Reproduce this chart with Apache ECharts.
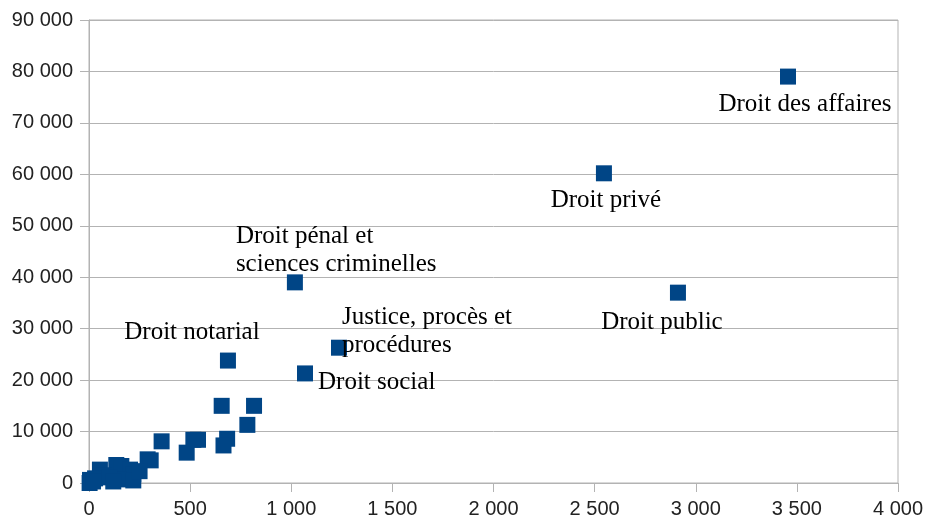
<!DOCTYPE html>
<html>
<head>
<meta charset="utf-8">
<script src="https://cdn.jsdelivr.net/npm/echarts@6/dist/echarts.min.js"></script>
<style>
  html, body { margin: 0; padding: 0; background: #fff; }
  #chart { width: 927px; height: 519px; }
</style>
</head>
<body>
<div id="chart"></div>
<script>
// nombre d'étudiants (x) vs. nombre de documents (y), par domaine
const xVals = [3456, 2546, 2912, 1018, 1236, 1068, 687,
  656, 816, 783, 683, 665, 516, 539, 483, 359, 290, 305,
  135, 160, 203, 219, 145, 219, 54, 70, 30, 5, 3, 20, 100, 120, 250]
const yVals = [79000, 60200, 37000, 39000, 26300, 21300, 23800,
  15000, 15000, 11300, 8600, 7300, 8400, 8400, 5900, 8100, 4600, 4400,
  3500, 3300, 2600, 1700, 700, 500, 2600, 1500, 900, 600, 0, 300, 1100, 300, 2300]
const names = ['Droit des affaires', 'Droit privé', 'Droit public',
  'Droit pénal et\nsciences criminelles', 'Justice, procès et\nprocédures',
  'Droit social', 'Droit notarial']

const xTicks = { min: 0, max: 4000, interval: 500 }
const yTicks = { min: 0, max: 90000, interval: 10000 }

// placement des étiquettes : décalage depuis le centre du carré
const labelPlace = {
  'Droit des affaires': { d: [17, 28], align: 'center' },
  'Droit privé': { d: [2, 27], align: 'center' },
  'Droit public': { d: [-16, 30], align: 'center' },
  'Droit pénal et\nsciences criminelles': { d: [-59, -32], align: 'left' },
  'Justice, procès et\nprocédures': { d: [3, -16], align: 'left' },
  'Droit social': { d: [13, 9], align: 'left' },
  'Droit notarial': { d: [-36, -28], align: 'center' }
}

const SYM = 16
const fmt = v => String(v).replace(/\B(?=(\d{3})+(?!\d))/g, ' ')

const data = xVals.map((x, i) => {
  const n = names[i] || ''
  const p = labelPlace[n]
  return {
    value: [x, yVals[i]],
    name: n,
    label: p ? {
      show: true,
      position: [SYM / 2 + p.d[0], SYM / 2 + p.d[1]],
      align: p.align,
      verticalAlign: 'middle',
      formatter: n,
      fontFamily: 'Liberation Serif',
      fontSize: 25,
      lineHeight: 28,
      color: '#000'
    } : { show: false }
  }
})

const axisCommon = {
  type: 'value',
  axisLine: { show: true, lineStyle: { color: '#b3b3b3' } },
  axisTick: { show: true, length: 9, lineStyle: { color: '#b3b3b3' } },
  axisLabel: {
    fontFamily: 'Liberation Sans',
    fontSize: 20,
    color: '#222',
    margin: 16,
    formatter: fmt
  }
}

const option = {
  animation: false,
  grid: {
    left: 89, right: 29, top: 20, bottom: 34, containLabel: false,
    show: true, borderColor: '#b3b3b3', borderWidth: 1
  },
  xAxis: Object.assign({}, axisCommon, xTicks, { splitLine: { show: false } }),
  yAxis: Object.assign({}, axisCommon, yTicks, {
    splitLine: { show: true, lineStyle: { color: '#b3b3b3' } }
  }),
  series: [{
    type: 'scatter',
    symbol: 'rect',
    symbolSize: SYM,
    itemStyle: { color: '#004586', opacity: 1 },
    data: data
  }]
}

const mycharts = echarts.init(document.getElementById('chart'))
mycharts.setOption(option)
</script>
</body>
</html>
